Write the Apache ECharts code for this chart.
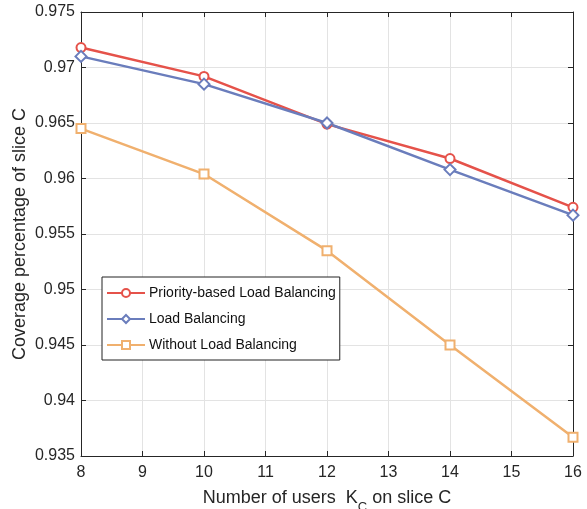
<!DOCTYPE html>
<html><head><meta charset="utf-8">
<script src="https://cdn.jsdelivr.net/npm/echarts@6/dist/echarts.min.js"></script>
<style>html,body{margin:0;padding:0;background:#fff}#c{width:587px;height:509px}</style>
</head><body><div id="c"></div>
<script>
var categories = [8, 10, 12, 14, 16];
var priorityLB = [0.9718, 0.9692, 0.9649, 0.9618, 0.9574];
var loadBalancing = [0.9710, 0.9685, 0.9650, 0.9608, 0.9567];
var withoutLB = [0.9645, 0.9604, 0.9535, 0.9450, 0.9367];
var xTicks = [8, 9, 10, 11, 12, 13, 14, 15, 16];
var yTicks = [0.935, 0.94, 0.945, 0.95, 0.955, 0.96, 0.965, 0.97, 0.975];

function pairs(vals){ return categories.map(function(c,i){return [c, vals[i]];}); }
var font = 'Liberation Sans, Arial, sans-serif';
var chart = echarts.init(document.getElementById('c'));
function mkSeries(name, vals, color, symbol, size){
  return {name:name, type:'line', data:pairs(vals), symbol:symbol, symbolSize:size,
    lineStyle:{color:color, width:2.5}, itemStyle:{color:'#fff', borderColor:color, borderWidth:2},
    emphasis:{disabled:true}};
}
chart.setOption({
  animation:false,
  backgroundColor:'#fff',
  grid:{left:81, top:12, right:14, bottom:53, containLabel:false, outerBoundsMode:'none'},
  legend:{
    orient:'vertical', left:102, top:277,
    backgroundColor:'#fff', borderColor:'#222', borderWidth:1,
    padding:[9,4,8,4], itemGap:12, itemWidth:38, itemHeight:10,
    textStyle:{fontFamily:font, fontSize:14, color:'#111', padding:[0,0,0,-1]},
    data:['Priority-based Load Balancing','Load Balancing','Without Load Balancing']
  },
  xAxis:[{
    type:'value', min:8, max:16, interval:1,
    axisLine:{show:true, lineStyle:{color:'#262626', width:1}},
    axisTick:{show:true, inside:true, length:5, lineStyle:{color:'#262626'}},
    axisLabel:{fontFamily:font, fontSize:16, color:'#262626', margin:9},
    splitLine:{show:true, lineStyle:{color:'#e3e3e3', width:1}},
    name:'Number of users  K{sub|C} on slice C', nameLocation:'middle', nameGap:33, nameMoveOverlap:false,
    nameTextStyle:{fontFamily:font, fontSize:18, color:'#262626',
      rich:{sub:{fontFamily:font, fontSize:13, color:'#262626', verticalAlign:'bottom', padding:[0,0,-7,0]}}}
  },{
    type:'value', min:8, max:16, interval:1, position:'top',
    axisLine:{show:true, lineStyle:{color:'#262626', width:1}},
    axisTick:{show:true, inside:true, length:5, lineStyle:{color:'#262626'}},
    axisLabel:{show:false}, splitLine:{show:false}
  }],
  yAxis:[{
    type:'value', min:0.935, max:0.975, interval:0.005,
    axisLine:{show:true, lineStyle:{color:'#262626', width:1}},
    axisTick:{show:true, inside:true, length:5, lineStyle:{color:'#262626'}},
    axisLabel:{fontFamily:font, fontSize:16, color:'#262626', margin:6,
      formatter:function(v){ return String(parseFloat(v.toFixed(3))); }},
    splitLine:{show:true, lineStyle:{color:'#e3e3e3', width:1}},
    name:'Coverage percentage of slice C', nameLocation:'middle', nameGap:52, nameMoveOverlap:false,
    nameTextStyle:{fontFamily:font, fontSize:18, color:'#262626'}
  },{
    type:'value', min:0.935, max:0.975, interval:0.005, position:'right',
    axisLine:{show:true, lineStyle:{color:'#262626', width:1}},
    axisTick:{show:true, inside:true, length:5, lineStyle:{color:'#262626'}},
    axisLabel:{show:false}, splitLine:{show:false}
  }],
  series:[
    mkSeries('Priority-based Load Balancing', priorityLB, '#E5524A', 'circle', 9),
    mkSeries('Load Balancing', loadBalancing, '#6A7DBC', 'diamond', 11),
    mkSeries('Without Load Balancing', withoutLB, '#F0B06E', 'rect', 9)
  ]
});
</script></body></html>
